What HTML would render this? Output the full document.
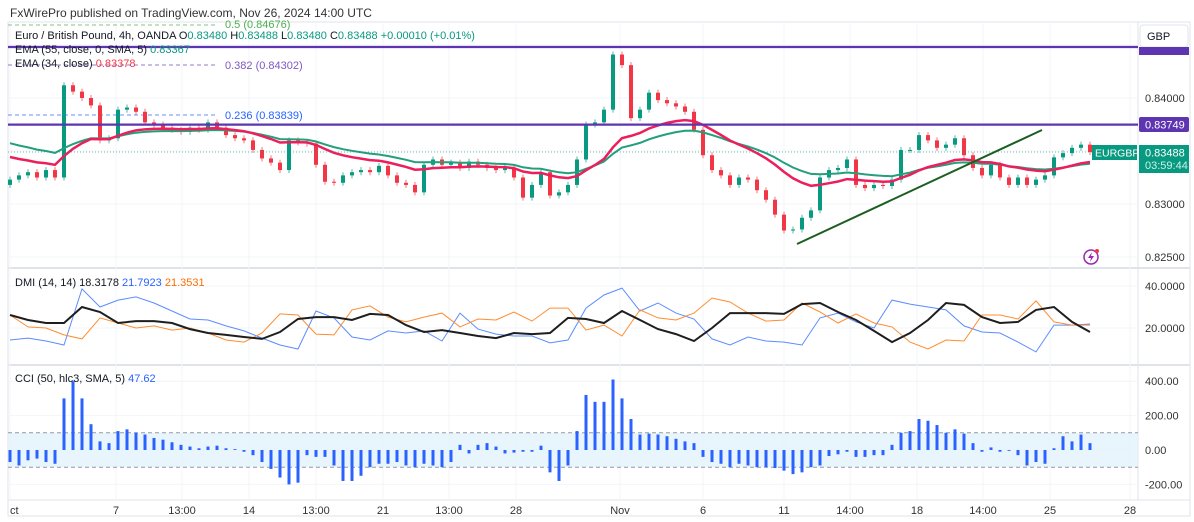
<!DOCTYPE html>
<html><head><meta charset="utf-8">
<style>
body{margin:0;background:#fff;font-family:"Liberation Sans",sans-serif;}
svg text{font-family:"Liberation Sans",sans-serif;}
</style></head>
<body>
<svg id="chart" width="1194" height="517" viewBox="0 0 1194 517" xmlns="http://www.w3.org/2000/svg">
<rect x="0" y="0" width="1194" height="517" fill="#fff"/>
<text x="10" y="17" font-size="12" fill="#333">FxWirePro published on TradingView.com, Nov 26, 2024 14:00 UTC</text>
<g id="grid"></g>
<g id="fib">
<line x1="8" y1="25" x2="218" y2="25" stroke="#4caf50" stroke-dasharray="4,3" opacity="0.7"/>
<text x="225" y="28" font-size="11" fill="#4caf50">0.5 (0.84676)</text>
<line x1="8" y1="65" x2="218" y2="65" stroke="#7e57c2" stroke-dasharray="4,3" opacity="0.8"/>
<text x="225" y="69" font-size="11" fill="#7e57c2">0.382 (0.84302)</text>
<line x1="8" y1="115" x2="218" y2="115" stroke="#2962ff" stroke-dasharray="4,3" opacity="0.7"/>
<text x="225" y="119" font-size="11" fill="#2962ff">0.236 (0.83839)</text>
</g>
<g id="main"></g>
<g id="dmi"></g>
<g id="cci"></g>
<g id="overlay"></g>
</svg>
<script>
const closes=[0.8323,0.8327,0.8330,0.8325,0.8332,0.8325,0.8412,0.8406,0.8400,0.8393,0.8360,0.8362,0.8389,0.8391,0.8387,0.8377,0.8375,0.8372,0.8370,0.8368,0.8372,0.8370,0.8377,0.8372,0.8365,0.8362,0.8360,0.8351,0.8343,0.8339,0.8332,0.8360,0.8358,0.8357,0.8337,0.8321,0.8320,0.8327,0.8330,0.8332,0.8330,0.8336,0.8327,0.8320,0.8318,0.8311,0.8337,0.8342,0.8337,0.8339,0.8334,0.8340,0.8337,0.8334,0.8332,0.8334,0.8325,0.8306,0.8318,0.8330,0.8308,0.8311,0.8318,0.8342,0.8375,0.8377,0.8389,0.8441,0.8431,0.8381,0.8389,0.8405,0.8398,0.8395,0.8392,0.8387,0.8370,0.8346,0.8332,0.8327,0.8318,0.8325,0.8323,0.8313,0.8304,0.8290,0.8275,0.8276,0.8287,0.8294,0.8325,0.8332,0.8334,0.8342,0.8318,0.8315,0.8318,0.8317,0.8323,0.8351,0.8351,0.8365,0.8360,0.8353,0.8356,0.8362,0.8346,0.8334,0.8327,0.8337,0.8325,0.8318,0.8325,0.8318,0.8323,0.8327,0.8344,0.8348,0.8353,0.8356,0.8349];
const openFirst=0.8318;
const cciValues=[-70,-90,-60,-50,-70,-80,300,400,300,150,50,40,110,120,100,90,70,60,45,30,20,10,20,25,10,5,-10,-30,-70,-110,-160,-200,-190,-30,-40,-40,-90,-180,-180,-150,-100,-80,-80,-70,-90,-100,-80,-90,-100,-70,30,-20,30,40,20,-20,-15,-10,-10,25,-130,-180,-90,110,320,280,280,410,300,180,90,95,90,80,65,50,40,-40,-70,-80,-100,-80,-90,-100,-100,-105,-120,-140,-130,-100,-90,-35,-25,-10,-40,-40,-30,-30,30,100,110,180,170,145,100,120,95,40,-10,15,-10,-5,-30,-90,-70,-80,10,80,50,90,40];
const adxValues=[26.2,23.8,22.4,22.4,30,27.6,22.4,23.3,23.3,22.4,19.5,17.6,16.7,15.7,14.8,18.1,24.3,25.2,25.2,23.8,26.7,26.2,21.4,18.1,19,17.6,16.2,15.2,17.6,17.1,17.6,24.8,24.3,22.4,28.1,23.8,19.5,17.1,13.8,20,27.1,27.1,27.1,26.7,31.4,31.9,27.6,23.8,18.6,13.3,17.6,23.8,31.9,31,25.2,22.4,22.9,28.6,30,22.9,18.1];
const plusDiValues=[14.3,15.2,13.8,11.9,38.6,30,33.3,34.8,31.9,28.1,24.3,23.8,21,18.6,15.2,11.9,10,28.1,24.8,15.7,14.3,18.6,17.6,18.6,13.8,27.1,19.5,17.1,16.2,16.2,12.9,14.3,29.5,35.7,39,28.1,31.9,27.1,24.3,14.8,11.9,15.7,13.8,13.3,11.9,24.8,27.1,22.9,20,33.3,31.4,30,28.6,21,18.1,17.6,13.3,8.6,21.4,21.4,21.9];
const minusDiValues=[26.2,20.5,20,16.7,14.8,24.8,22.4,20,21,19,20,17.6,14.3,13.3,17.6,26.7,26.2,17.1,16.7,28.6,30.5,25.2,22.9,25.2,27.1,20.5,24.3,23.8,27.6,23.3,29.5,29.5,19,21.4,16.2,28.6,24.8,23.8,27.1,34.3,32.4,27.1,23.3,23.8,31.9,27.6,22.4,26.7,22.4,20.5,13.3,10,14.3,13.8,26.2,26.2,24.3,32.9,22.9,21.4,21.4];
const priceTicks=[0.845,0.84,0.835,0.83,0.825];
const priceTickLabels=["","0.84000","","0.83000","0.82500"];
const dmiTicks=[40,20];
const dmiTickLabels=["40.0000","20.0000"];
const cciTicks=[400,200,0,-200];
const cciTickLabels=["400.00","200.00","0.00","-200.00"];
const timeLabels=["ct","7","13:00","14","13:00","21","13:00","28","Nov","6","11","14:00","18","14:00","25","28"];
const timeLabelX=[10,116,182,249,316,383,449,516,620,703,784,850,917,983,1050,1130];

const NS="http://www.w3.org/2000/svg";
function mk(tag,attrs,parent){const e=document.createElementNS(NS,tag);for(const k in attrs)e.setAttribute(k,attrs[k]);parent.appendChild(e);return e;}
const xAt=i=>10+9*i;
const xDmi=j=>10+18*j;
const py=p=>98+(0.84-p)*10600;
const dy=v=>328-(v-20)*2.1;
const cy=v=>450-v*0.172;
const grid=document.getElementById('grid');
const main=document.getElementById('main');
const dmi=document.getElementById('dmi');
const cci=document.getElementById('cci');
const ov=document.getElementById('overlay');

let r=mk('rect',{x:8,y:22,width:1182,height:494,fill:'none',stroke:'#e0e3eb'},grid);


[268,365].forEach(y=>{const l=mk('line',{x1:8,y1:y,x2:1190,y2:y,stroke:'#e0e3eb','stroke-width':2},grid);

});
let axl=mk('line',{x1:1138,y1:22,x2:1138,y2:500,stroke:'#e0e3eb'},grid);


let bl=mk('line',{x1:8,y1:500,x2:1190,y2:500,stroke:'#e0e3eb'},grid);


timeLabelX.forEach((x,k)=>{
 const g=mk('line',{x1:x,y1:22,x2:x,y2:500,stroke:'#f2f4f8'},grid);
 
 
 const t=mk('text',{x:x,y:514,'font-size':11,fill:'#333','text-anchor':k===0?'start':'middle'},grid);
 t.textContent=timeLabels[k];
 
 
});
priceTicks.forEach((p,k)=>{
 const g=mk('line',{x1:8,y1:py(p),x2:1138,y2:py(p),stroke:'#f2f4f8'},grid);
 
 
 if(priceTickLabels[k]){const t=mk('text',{x:1145,y:py(p)+4,'font-size':11,fill:'#333'},grid);
 t.textContent=priceTickLabels[k];
 
 }
});
dmiTicks.forEach((v,k)=>{
 const g=mk('line',{x1:8,y1:dy(v),x2:1138,y2:dy(v),stroke:'#f2f4f8'},grid);
 
 
 const t=mk('text',{x:1145,y:dy(v)+4,'font-size':11,fill:'#333'},grid);
 t.textContent=dmiTickLabels[k];
 
 
});
let band=mk('rect',{x:8,y:cy(100),width:1130,height:cy(-100)-cy(100),fill:'#e3f2fd',opacity:0.8},cci);


[100,-100].forEach(v=>{const l=mk('line',{x1:8,y1:cy(v),x2:1138,y2:cy(v),stroke:'#9598a1','stroke-dasharray':'4,3'},cci);

});
cciTicks.forEach((v,k)=>{
 const g=mk('line',{x1:8,y1:cy(v),x2:1138,y2:cy(v),stroke:'#f2f4f8'},grid);
 
 
 const t=mk('text',{x:1145,y:cy(v)+4,'font-size':11,fill:'#333'},grid);
 t.textContent=cciTickLabels[k];
 
 
});
cciValues.forEach((v,i)=>{
 const y0=cy(0),y1=cy(v);
 const b=mk('rect',{x:xAt(i)-1.5,y:Math.min(y0,y1),width:3,height:Math.abs(y1-y0),fill:'#2962ff'},cci);
 
 
});

closes.forEach((c,i)=>{
 const o=i===0?openFirst:closes[i-1];
 const up=c>=o;const col=up?'#089981':'#f23645';
 const yt=py(Math.max(o,c)),yb=py(Math.min(o,c));
 const w=mk('line',{x1:xAt(i),y1:yt-3,x2:xAt(i),y2:yb+3,stroke:col,'stroke-width':1,opacity:0.7},main);
 
 
 const b=mk('rect',{x:xAt(i)-2,y:yt,width:4,height:Math.max(1,yb-yt),fill:col},main);
 
 
});
function ema(arr,n,seed){const a=2/(n+1);let e=seed;return arr.map(v=>(e=e+a*(v-e)));}
const ema34=ema(closes,17,0.8347);
const ema55=ema(closes,27,0.8360);
let pg=mk('path',{d:ema55.map((v,i)=>(i?'L':'M')+xAt(i)+','+py(v).toFixed(1)).join(''),fill:'none',stroke:'#22a07c','stroke-width':2},main);


let pr=mk('path',{d:ema34.map((v,i)=>(i?'L':'M')+xAt(i)+','+py(v).toFixed(1)).join(''),fill:'none',stroke:'#ec1f5c','stroke-width':2.5},main);



function dline(arr,col,w,name){const p=mk('path',{d:arr.map((v,j)=>(j?'L':'M')+xDmi(j)+','+dy(v).toFixed(1)).join(''),fill:'none',stroke:col,'stroke-width':w},dmi);
 
 }
dline(plusDiValues,'#5b8cff',1,'plus-di-line');
dline(minusDiValues,'#ff8c2f',1,'minus-di-line');
dline(adxValues,'#1e1e1e',2,'adx-line');

const lastY=py(closes[closes.length-1]);
let pl=mk('line',{x1:8,y1:lastY,x2:1092,y2:lastY,stroke:'#089981','stroke-dasharray':'1,2',opacity:0.6},ov);


[[47,'resistance-line-top'],[py(0.83749),'resistance-line-0.83749']].forEach(([y,n])=>{
 const l=mk('line',{x1:8,y1:y,x2:1138,y2:y,stroke:'#5e35b1','stroke-width':2.2},ov);
 
 
});
let tl=mk('line',{x1:797,y1:244,x2:1042,y2:130,stroke:'#1b5e20','stroke-width':2},ov);


</script>
<svg style="position:absolute;left:0;top:0" width="1194" height="517" viewBox="0 0 1194 517" xmlns="http://www.w3.org/2000/svg">
<g font-size="11">
<text x="15" y="39" fill="#131722">Euro / British Pound, 4h, OANDA O<tspan fill="#089981">0.83480</tspan> H<tspan fill="#089981">0.83488</tspan> L<tspan fill="#089981">0.83480</tspan> C<tspan fill="#089981">0.83488</tspan> <tspan fill="#089981">+0.00010 (+0.01%)</tspan></text>
<text x="15" y="53" fill="#131722">EMA (55, close, 0, SMA, 5) <tspan fill="#089981">0.83367</tspan></text>
<text x="15" y="67" fill="#131722">EMA (34, close) <tspan fill="#f23645">0.83378</tspan></text>
</g>
<text x="15" y="286" font-size="11" fill="#131722">DMI (14, 14) 18.3178 <tspan fill="#2962ff">21.7923</tspan> <tspan fill="#ff6d00">21.3531</tspan></text>
<text x="15" y="382" font-size="11" fill="#131722">CCI (50, hlc3, SMA, 5) <tspan fill="#2962ff">47.62</tspan></text>
<g>
<rect x="1140" y="25" width="48" height="22" rx="3" fill="#fff" stroke="#e0e3eb"/>
<text x="1147" y="40" font-size="11" fill="#131722">GBP</text>
</g>
<g>
<rect x="1139" y="47" width="50" height="8" fill="#5e35b1"/>
</g>
<g>
<rect x="1139" y="117" width="50" height="15" rx="2" fill="#5e35b1"/>
<text x="1145" y="128.5" font-size="11" fill="#fff">0.83749</text>
</g>
<g>
<rect x="1092" y="145" width="45" height="15" fill="#089981"/>
<text x="1095" y="156.5" font-size="10.5" fill="#fff">EURGBP</text>
</g>
<g>
<rect x="1139" y="145" width="50" height="28" fill="#089981"/>
<text x="1145" y="156.5" font-size="11" fill="#fff">0.83488</text>
<text x="1145" y="169" font-size="11" fill="#d0f0e8">03:59:44</text>
</g>
<g>
<circle cx="1091" cy="257" r="7" fill="none" stroke="#9c27b0" stroke-width="1.5"/>
<path d="M1092 252 L1088 258 L1091 258 L1090 262 L1094 256 L1091 256 Z" fill="#9c27b0"/>
<circle cx="1097" cy="251" r="2" fill="#f23645"/>
</g>
</svg>
</body></html>
